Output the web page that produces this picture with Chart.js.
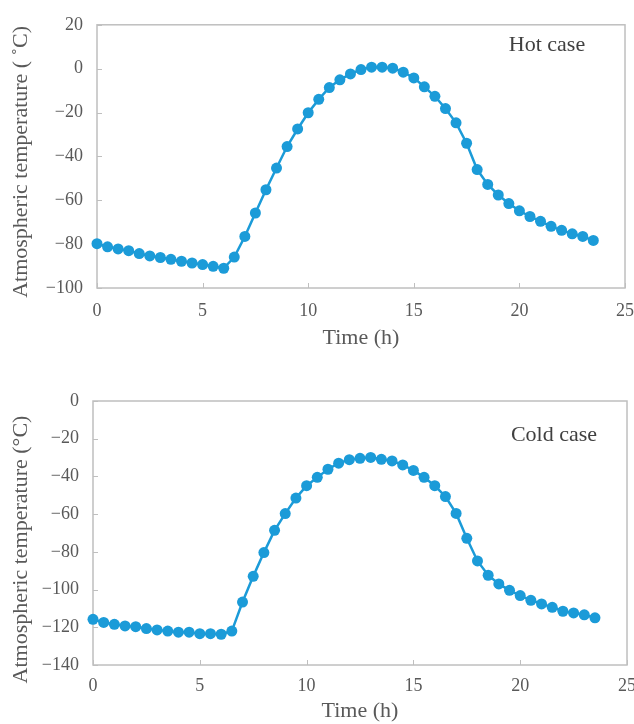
<!DOCTYPE html>
<html>
<head>
<meta charset="utf-8">
<script src="https://cdn.jsdelivr.net/npm/chart.js@4/dist/chart.umd.min.js"></script>
<style>
  html, body { margin: 0; padding: 0; background: #fff; }
  .box { position: absolute; left: 0; width: 634px; height: 362px; }
</style>
</head>
<body>
<div class="box" style="top:0"><canvas id="hot" width="634" height="362"></canvas></div>
<div class="box" style="top:362px"><canvas id="cold" width="634" height="362"></canvas></div>
<script>
// time of day (h)
const hours = [0, 0.5, 1, 1.5, 2, 2.5, 3, 3.5, 4, 4.5, 5, 5.5, 6, 6.5, 7, 7.5, 8, 8.5, 9, 9.5,
  10, 10.5, 11, 11.5, 12, 12.5, 13, 13.5, 14, 14.5, 15, 15.5, 16, 16.5, 17, 17.5, 18, 18.5, 19, 19.5,
  20, 20.5, 21, 21.5, 22, 22.5, 23, 23.5];

// atmospheric temperature, hot case (°C)
const hotTemp = [-79.8, -81.2, -82.2, -83, -84.3, -85.4, -86.1, -86.9, -87.8, -88.6, -89.3, -90.1, -91, -85.9,
  -76.5, -65.8, -55.2, -45.3, -35.5, -27.5, -20.1, -14, -8.6, -5.1, -2.4, -0.4, 0.7, 0.7, 0.2, -1.6,
  -4.2, -8.3, -12.6, -18.2, -24.7, -34, -46, -52.8, -57.6, -61.5, -64.8, -67.4, -69.6, -71.9, -73.7,
  -75.3, -76.5, -78.3];

// atmospheric temperature, cold case (°C)
const coldTemp = [-115.8, -117.4, -118.4, -119.3, -119.7, -120.7, -121.4, -122, -122.6, -122.6, -123.4, -123.4,
  -123.7, -122, -106.6, -93, -80.4, -68.6, -59.7, -51.5, -44.9, -40.5, -36.2, -33, -31.1, -30.4, -29.9,
  -30.9, -31.8, -33.9, -36.8, -40.5, -44.9, -50.7, -59.6, -72.8, -84.8, -92.4, -97, -100.4, -103.2,
  -105.7, -107.6, -109.4, -111.5, -112.4, -113.4, -115];

const xTicks = [0, 5, 10, 15, 20, 25];
const hotYRange = [-100, 20];
const coldYRange = [-140, 0];

const BLUE = "#1b9bd8";
const FRAME = "#bfbfbf";
const SERIF = "'Liberation Serif', 'DejaVu Serif', serif";
const NB = "\u00a0";

// frame around the plot, inner tick marks, case label
const framePlugin = {
  id: "frame",
  beforeDatasetsDraw(chart, args, opts) {
    const { ctx, chartArea: a, scales } = chart;
    ctx.save();
    ctx.strokeStyle = FRAME;
    ctx.lineWidth = 1.5;
    ctx.strokeRect(a.left, a.top, a.right - a.left, a.bottom - a.top);
    ctx.lineWidth = 1;
    ctx.beginPath();
    scales.x.ticks.forEach(t => {
      const px = Math.round(scales.x.getPixelForValue(t.value)) + 0.5;
      ctx.moveTo(px, a.bottom);
      ctx.lineTo(px, a.bottom - 5);
    });
    scales.y.ticks.forEach(t => {
      const py = Math.round(scales.y.getPixelForValue(t.value)) + 0.5;
      ctx.moveTo(a.left, py);
      ctx.lineTo(a.left + 5, py);
    });
    ctx.stroke();
    ctx.fillStyle = "#404040";
    ctx.font = "22px " + SERIF;
    ctx.textAlign = "center";
    ctx.textBaseline = "middle";
    ctx.fillText(opts.label, a.right + opts.dx, a.top + opts.dy);
    ctx.restore();
  }
};

function makeChart(id, values, yRange, yTitle, lay) {
  return new Chart(document.getElementById(id), {
    type: "line",
    data: {
      datasets: [{
        data: hours.map((h, i) => ({ x: h, y: values[i] })),
        borderColor: BLUE,
        backgroundColor: BLUE,
        borderWidth: 2.5,
        pointRadius: 5.5,
        pointBorderWidth: 0,
        tension: 0,
        clip: false
      }]
    },
    options: {
      responsive: false,
      animation: false,
      layout: { padding: { top: lay.top, right: lay.right, left: 0, bottom: 0 } },
      plugins: {
        legend: { display: false },
        tooltip: { enabled: false },
        frame: { label: lay.label, dx: lay.dx, dy: lay.dy }
      },
      scales: {
        x: {
          type: "linear",
          min: 0, max: 25,
          afterBuildTicks: s => { s.ticks = xTicks.map(v => ({ value: v })); },
          afterFit: s => { s.height = lay.xh; s.paddingLeft = 0; s.paddingRight = 0; },
          grid: { display: false, drawTicks: false },
          border: { display: false },
          ticks: { color: "#595959", padding: lay.tickPad, font: { family: SERIF, size: 18 } },
          title: {
            display: true, text: "Time (h)", color: "#595959",
            font: { family: SERIF, size: 22 },
            padding: { top: 0, bottom: lay.titlePad }
          }
        },
        y: {
          min: yRange[0], max: yRange[1],
          ticks: {
            stepSize: 20, color: "#595959", padding: 14, font: { family: SERIF, size: 18 },
            callback: v => String(v).replace("-", "\u2212")
          },
          afterFit: s => { s.width = lay.yw; },
          grid: { display: false, drawTicks: false },
          border: { display: false },
          title: {
            display: true, text: yTitle + NB.repeat(lay.shift), color: "#595959",
            font: { family: SERIF, size: 22 },
            padding: { top: 8, bottom: 0 }
          }
        }
      }
    },
    plugins: [framePlugin]
  });
}

makeChart("hot", hotTemp, hotYRange, "Atmospheric temperature ( ˚C)",
  { top: 22, right: 9, yw: 97, xh: 74, tickPad: 12, titlePad: 11, label: "Hot case", dx: -78, dy: 20, shift: 2 });
makeChart("cold", coldTemp, coldYRange, "Atmospheric temperature (°C)",
  { top: 39, right: 7, yw: 93, xh: 59, tickPad: 10, titlePad: 0, label: "Cold case", dx: -73, dy: 34, shift: 6 });
</script>
</body>
</html>
